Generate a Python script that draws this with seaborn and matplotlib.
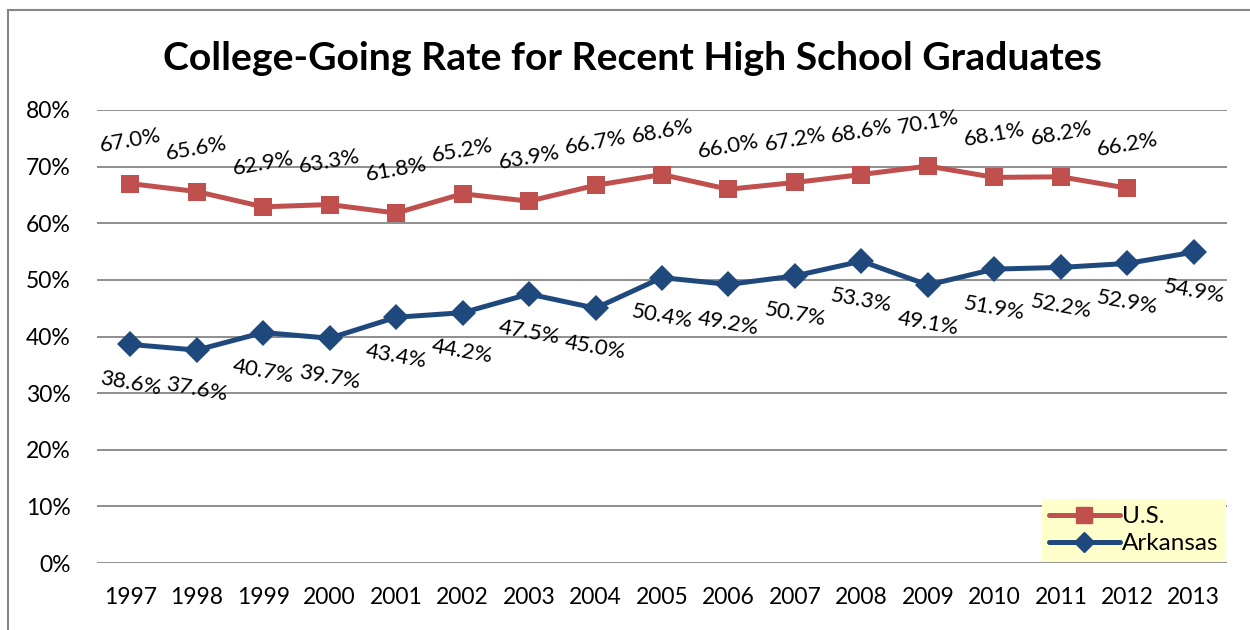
import pandas as pd
import numpy as np
import seaborn as sns
import matplotlib.pyplot as plt
from matplotlib.patches import Rectangle

years = [1997, 1998, 1999, 2000, 2001, 2002, 2003, 2004, 2005, 2006, 2007, 2008, 2009, 2010, 2011, 2012, 2013]
us_rate = [67.0, 65.6, 62.9, 63.3, 61.8, 65.2, 63.9, 66.7, 68.6, 66.0, 67.2, 68.6, 70.1, 68.1, 68.2, 66.2, None]
ark_rate = [38.6, 37.6, 40.7, 39.7, 43.4, 44.2, 47.5, 45.0, 50.4, 49.2, 50.7, 53.3, 49.1, 51.9, 52.2, 52.9, 54.9]
series_names = ['U.S.', 'Arkansas']
colors = {'U.S.': '#C0504D', 'Arkansas': '#1F497D'}

# long table for seaborn, x as category position
df = pd.DataFrame({
    'pos': list(range(len(years))) * 2,
    'rate': [np.nan if v is None else v / 100 for v in us_rate] + [v / 100 for v in ark_rate],
    'series': ['U.S.'] * len(years) + ['Arkansas'] * len(years),
})

sns.set_style('white')
plt.rcParams['font.family'] = ['Lato', 'DejaVu Sans']
plt.rcParams['text.color'] = 'black'
plt.rcParams['xtick.color'] = 'black'
plt.rcParams['ytick.color'] = 'black'

fig = plt.figure(figsize=(12.5, 6.3), dpi=100)
ax = fig.add_axes([97 / 1250, 1 - 563 / 630, 1130 / 1250, 453 / 630])

sns.lineplot(data=df.dropna(), x='pos', y='rate', hue='series', style='series',
             hue_order=series_names, style_order=series_names,
             markers={'U.S.': 's', 'Arkansas': 'D'}, dashes=False,
             palette=colors, linewidth=3.6, markersize=13.5, markeredgewidth=0,
             ax=ax, legend=False)

# data labels, rotated like the original (US tilts up, Arkansas tilts down)
for i, v in enumerate(us_rate):
    if v is not None:
        ax.annotate(f'{v:.1f}%', (i, v / 100), xytext=(0, 31), textcoords='offset points',
                    ha='center', va='center', rotation=10, fontsize=16)
for i, v in enumerate(ark_rate):
    ax.annotate(f'{v:.1f}%', (i, v / 100), xytext=(0, -28), textcoords='offset points',
                ha='center', va='center', rotation=-10, fontsize=16)

ax.set_xlim(-0.5, len(years) - 0.5)
ax.set_ylim(0, 0.8)
ax.set_yticks(np.arange(0, 0.81, 0.1))
ax.set_yticklabels([f'{int(round(t * 100))}%' for t in np.arange(0, 0.81, 0.1)])
ax.set_xticks(range(len(years)))
ax.set_xticklabels([str(y) for y in years])
ax.tick_params(axis='both', labelsize=16.5, length=0)
ax.tick_params(axis='y', pad=19)
ax.tick_params(axis='x', pad=17)
ax.set_xlabel('')
ax.set_ylabel('')
ax.grid(axis='y', color='#868686', linewidth=1.3)
ax.set_axisbelow(True)
for s in ax.spines.values():
    s.set_visible(False)

leg_handles = [plt.Line2D([], [], color=colors['U.S.'], marker='s', lw=3.6, ms=12),
               plt.Line2D([], [], color=colors['Arkansas'], marker='D', lw=3.6, ms=10)]
leg = ax.legend(leg_handles, series_names, loc='lower right', bbox_to_anchor=(1.0, 0.0),
                fontsize=17.5, frameon=True, fancybox=False, handlelength=2.9,
                handletextpad=0.1, borderpad=0.3, labelspacing=0.25, borderaxespad=0.05)
leg.get_frame().set_facecolor('#FFFFCC')
leg.get_frame().set_edgecolor('none')
leg.get_frame().set_alpha(1)

fig.text(632 / 1250, 1 - 58 / 630, 'College-Going Rate for Recent High School Graduates',
         ha='center', va='center', fontsize=28.2, fontweight='bold')

# chart area border
fig.patches.append(Rectangle((8 / 1250, -0.1), 1.2, 1 - 10 / 630 + 0.1, transform=fig.transFigure,
                             fill=False, edgecolor='#868686', linewidth=1.5))

fig.savefig('out.png', dpi=100)
